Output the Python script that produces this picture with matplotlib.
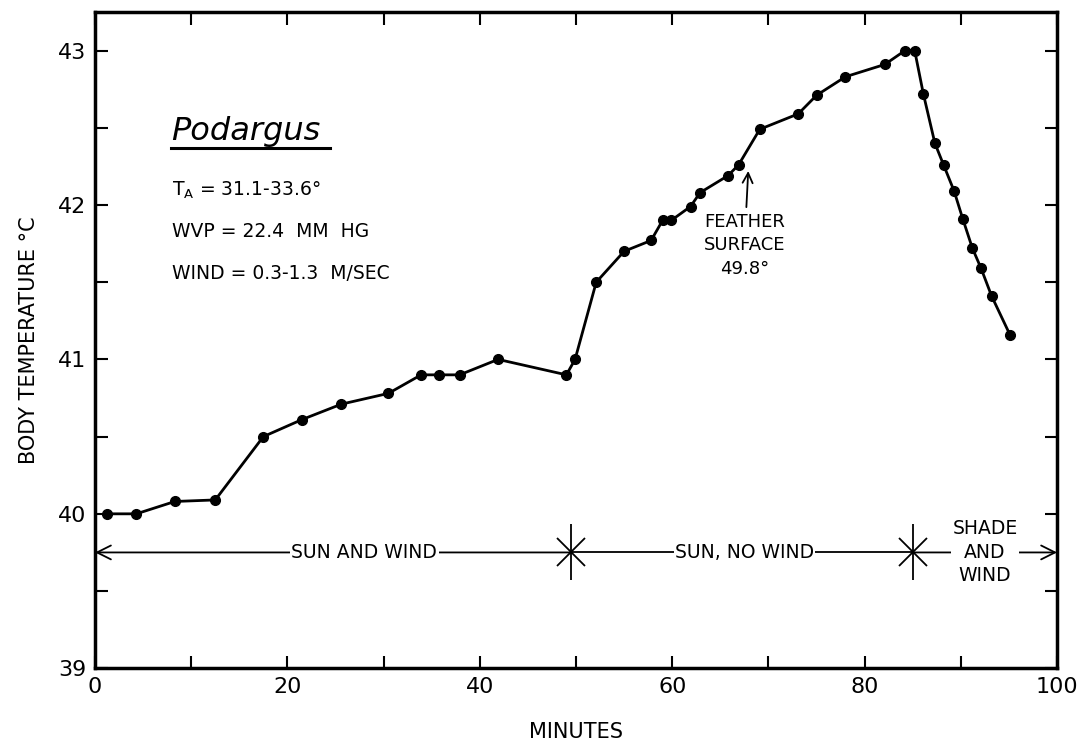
import numpy as np
import matplotlib
matplotlib.use("Agg")
import matplotlib.pyplot as plt

# body temperature of Podargus vs time
minutes = [1.2, 4.3, 8.3, 12.5, 17.5, 21.5, 25.6, 30.5, 33.9, 35.8, 37.9, 41.9,
           49.0, 49.9, 52.1, 55.0, 57.8, 59.0, 59.9, 61.9, 62.9, 65.8, 66.9,
           69.1, 73.1, 75.0, 78.0, 82.1, 84.2, 85.2, 86.1, 87.3, 88.2, 89.3,
           90.2, 91.2, 92.1, 93.2, 95.1]
temps = [40.0, 40.0, 40.08, 40.09, 40.5, 40.61, 40.71, 40.78, 40.9, 40.9, 40.9, 41.0,
         40.9, 41.0, 41.5, 41.7, 41.77, 41.9, 41.9, 41.99, 42.08, 42.19, 42.26,
         42.49, 42.59, 42.71, 42.83, 42.91, 43.0, 43.0, 42.72, 42.4, 42.26, 42.09,
         41.91, 41.72, 41.59, 41.41, 41.16]

# condition periods
bounds = [0, 49.5, 85, 100]
periods = ["SUN AND WIND", "SUN, NO WIND", "SHADE\nAND\nWIND"]
period_x = [28, 67.5, 92.5]
band_y = 39.75

plt.rcParams['font.family'] = ['DejaVu Sans']
fig = plt.figure(figsize=(10.92, 7.45), dpi=100)
ax = fig.add_axes([0.087, 0.103, 0.881, 0.881])

ax.plot(minutes, temps, '-o', color='black', lw=2, ms=7)

ax.set_xlim(0, 100)
ax.set_ylim(39, 43.25)
ax.set_xticks(np.arange(0, 101, 20))
ax.set_xticks(np.arange(0, 101, 10), minor=True)
ax.set_yticks(np.arange(39, 44, 1))
ax.set_yticks(np.arange(39, 43.1, 0.5), minor=True)
ax.tick_params(which='both', direction='in', top=True, right=True, width=1.5)
ax.tick_params(which='major', length=9, labelsize=16, pad=6)
ax.tick_params(which='minor', length=9)
for s in ax.spines.values():
    s.set_linewidth(2.5)

ax.set_xlabel("MINUTES", fontsize=15, labelpad=18)
ax.set_ylabel("BODY TEMPERATURE °C", fontsize=15, labelpad=14)

# period arrows
ax.annotate('', xy=(bounds[0], band_y), xytext=(bounds[1], band_y),
            arrowprops=dict(arrowstyle='->', lw=1.3, mutation_scale=25, shrinkA=0, shrinkB=0))
ax.plot([bounds[1], bounds[2]], [band_y, band_y], color='black', lw=1.3)
ax.annotate('', xy=(bounds[3], band_y), xytext=(bounds[2], band_y),
            arrowprops=dict(arrowstyle='->', lw=1.3, mutation_scale=25, shrinkA=0, shrinkB=0))
for b in bounds[1:3]:
    ax.plot(b, band_y, marker='|', ms=40, mew=1.3, color='black')
    ax.plot(b, band_y, marker='x', ms=20, mew=1.3, color='black')
for t, x in zip(periods, period_x):
    ax.text(x, band_y, t, ha='center', va='center', fontsize=13.5, linespacing=1.3,
            bbox=dict(fc='white', ec='none', pad=1))

# feather surface note
ax.annotate('FEATHER\nSURFACE\n49.8°', xy=(67.9, 42.22), xytext=(67.5, 41.95),
            ha='center', va='top', fontsize=13, linespacing=1.4,
            arrowprops=dict(arrowstyle='->', lw=1.3, mutation_scale=18, shrinkA=2, shrinkB=0))

# conditions
ax.text(7.9, 42.42, "Podargus", fontsize=23, style='italic', va='baseline')
ax.plot([7.9, 24.4], [42.37, 42.37], color='black', lw=2.2)
ax.text(8.0, 42.06, r"T$_\mathregular{A}$ = 31.1-33.6°", fontsize=13.5, va='baseline')
ax.text(8.0, 41.79, "WVP = 22.4  MM  HG", fontsize=13.5, va='baseline')
ax.text(8.0, 41.52, "WIND = 0.3-1.3  M/SEC", fontsize=13.5, va='baseline')

plt.savefig('out.png', dpi=100)
